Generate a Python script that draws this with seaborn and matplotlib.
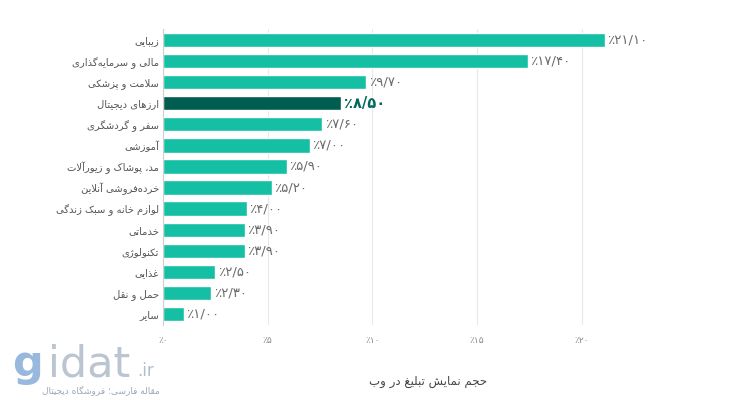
import matplotlib
matplotlib.use("Agg")
import matplotlib.pyplot as plt
import seaborn as sns
import pandas as pd

# ---------------- data ----------------
categories = [
    "زیبایی",
    "مالی و سرمایه\u200cگذاری",
    "سلامت و پزشکی",
    "ارزهای دیجیتال",
    "سفر و گردشگری",
    "آموزشی",
    "مد، پوشاک و زیورآلات",
    "خرده\u200cفروشی آنلاین",
    "لوازم خانه و سبک زندگی",
    "خدماتی",
    "تکنولوژی",
    "غذایی",
    "حمل و نقل",
    "سایر",
]
values = [21.10, 17.40, 9.70, 8.50, 7.60, 7.00, 5.90, 5.20, 4.00, 3.90, 3.90, 2.50, 2.30, 1.00]
highlight = "ارزهای دیجیتال"
x_ticks = [0, 5, 10, 15, 20]
x_label = "حجم نمایش تبلیغ در وب"
brand_sub = "مقاله فارسی؛ فروشگاه دیجیتال"

# ---------------- simple Arabic/Persian shaping ----------------
FORMS = {
    'آ': (0xFE81, 0xFE82, None, None), 'أ': (0xFE83, 0xFE84, None, None),
    'ؤ': (0xFE85, 0xFE86, None, None), 'إ': (0xFE87, 0xFE88, None, None),
    'ئ': (0xFE89, 0xFE8A, 0xFE8B, 0xFE8C), 'ا': (0xFE8D, 0xFE8E, None, None),
    'ب': (0xFE8F, 0xFE90, 0xFE91, 0xFE92), 'ة': (0xFE93, 0xFE94, None, None),
    'ت': (0xFE95, 0xFE96, 0xFE97, 0xFE98), 'ث': (0xFE99, 0xFE9A, 0xFE9B, 0xFE9C),
    'ج': (0xFE9D, 0xFE9E, 0xFE9F, 0xFEA0), 'ح': (0xFEA1, 0xFEA2, 0xFEA3, 0xFEA4),
    'خ': (0xFEA5, 0xFEA6, 0xFEA7, 0xFEA8), 'د': (0xFEA9, 0xFEAA, None, None),
    'ذ': (0xFEAB, 0xFEAC, None, None), 'ر': (0xFEAD, 0xFEAE, None, None),
    'ز': (0xFEAF, 0xFEB0, None, None), 'س': (0xFEB1, 0xFEB2, 0xFEB3, 0xFEB4),
    'ش': (0xFEB5, 0xFEB6, 0xFEB7, 0xFEB8), 'ص': (0xFEB9, 0xFEBA, 0xFEBB, 0xFEBC),
    'ض': (0xFEBD, 0xFEBE, 0xFEBF, 0xFEC0), 'ط': (0xFEC1, 0xFEC2, 0xFEC3, 0xFEC4),
    'ظ': (0xFEC5, 0xFEC6, 0xFEC7, 0xFEC8), 'ع': (0xFEC9, 0xFECA, 0xFECB, 0xFECC),
    'غ': (0xFECD, 0xFECE, 0xFECF, 0xFED0), 'ف': (0xFED1, 0xFED2, 0xFED3, 0xFED4),
    'ق': (0xFED5, 0xFED6, 0xFED7, 0xFED8), 'ك': (0xFED9, 0xFEDA, 0xFEDB, 0xFEDC),
    'ل': (0xFEDD, 0xFEDE, 0xFEDF, 0xFEE0), 'م': (0xFEE1, 0xFEE2, 0xFEE3, 0xFEE4),
    'ن': (0xFEE5, 0xFEE6, 0xFEE7, 0xFEE8), 'ه': (0xFEE9, 0xFEEA, 0xFEEB, 0xFEEC),
    'و': (0xFEED, 0xFEEE, None, None), 'ى': (0xFEEF, 0xFEF0, None, None),
    'ي': (0xFEF1, 0xFEF2, 0xFEF3, 0xFEF4),
    'پ': (0xFB56, 0xFB57, 0xFB58, 0xFB59), 'چ': (0xFB7A, 0xFB7B, 0xFB7C, 0xFB7D),
    'ژ': (0xFB8A, 0xFB8B, None, None), 'ک': (0xFB8E, 0xFB8F, 0xFB90, 0xFB91),
    'گ': (0xFB92, 0xFB93, 0xFB94, 0xFB95), 'ی': (0xFBFC, 0xFBFD, 0xFBFE, 0xFBFF),
}
LAM_ALEF = {'آ': (0xFEF5, 0xFEF6), 'أ': (0xFEF7, 0xFEF8), 'إ': (0xFEF9, 0xFEFA), 'ا': (0xFEFB, 0xFEFC)}


def shape(text):
    toks = []
    i = 0
    while i < len(text):
        c = text[i]
        if c == 'ل' and i + 1 < len(text) and text[i + 1] in LAM_ALEF:
            toks.append(('LA', text[i + 1]))
            i += 2
        else:
            toks.append(c)
            i += 1

    def jn(t):
        return (not isinstance(t, tuple)) and t in FORMS and FORMS[t][2] is not None

    def jp(t):
        return isinstance(t, tuple) or t in FORMS

    out = []
    for k, t in enumerate(toks):
        prev = toks[k - 1] if k > 0 else None
        nxt = toks[k + 1] if k + 1 < len(toks) else None
        p = prev is not None and jn(prev) and jp(t)
        n = nxt is not None and jn(t) and jp(nxt)
        if isinstance(t, tuple):
            out.append(chr(LAM_ALEF[t[1]][1 if p else 0]))
        elif t in FORMS:
            iso, fin, ini, med = FORMS[t]
            if p and n:
                out.append(chr(med))
            elif p:
                out.append(chr(fin))
            elif n:
                out.append(chr(ini))
            else:
                out.append(chr(iso))
        elif t == '\u200c':
            continue
        else:
            out.append(t)
    return ''.join(reversed(out))


FA_DIGITS = str.maketrans("0123456789.", "۰۱۲۳۴۵۶۷۸۹/")


def fa_pct(v, fmt="{:.2f}"):
    return "٪" + fmt.format(v).translate(FA_DIGITS)


# ---------------- plot ----------------
sns.set_theme(style="white")
plt.rcParams['font.family'] = ['DejaVu Sans']

teal = "#14BFA4"
dark = "#005E50"
df = pd.DataFrame({"cat": categories, "val": values})
palette = {c: (dark if c == highlight else teal) for c in categories}

fig = plt.figure(figsize=(7.4, 4.11), dpi=100)
ax = fig.add_axes([163 / 740, 1 - 324.5 / 411, (693 - 163) / 740, (324.5 - 29.5) / 411])

sns.barplot(data=df, x="val", y="cat", hue="cat", palette=palette, legend=False,
            orient="h", width=0.68, ax=ax, saturation=1)

ax.set_xlim(0, 25.3)
ax.set_ylim(13.5, -0.5)
ax.set_xticks(x_ticks)
ax.set_xticklabels([("٪" + str(t).translate(FA_DIGITS)) for t in x_ticks],
                   fontsize=6.5, color="#888888")
ax.set_yticks(range(len(categories)))
ax.set_yticklabels([shape(c) for c in categories], fontsize=7.2, color="#555555")
ax.tick_params(axis="y", length=0, pad=3)
ax.tick_params(axis="x", length=0, pad=8)
ax.set_xlabel(shape(x_label), fontsize=8.5, color="#444444", labelpad=22)
ax.set_ylabel("")

ax.xaxis.grid(True, color="#e8e8e8", linewidth=0.8)
ax.set_axisbelow(True)
for s in ["top", "right", "bottom"]:
    ax.spines[s].set_visible(False)
ax.spines["left"].set_color("#cfcfcf")
ax.spines["left"].set_linewidth(0.8)

for i, (c, v) in enumerate(zip(categories, values)):
    if c == highlight:
        ax.text(v + 0.12, i, fa_pct(v), va="center", ha="left", fontsize=10.5,
                fontweight="bold", color="#006B5A")
    else:
        ax.text(v + 0.12, i, fa_pct(v), va="center", ha="left", fontsize=9.5,
                color="#6b6b6b")

# watermark
fig.text(12 / 740, 1 - 376 / 411, "g", fontsize=31, color="#7fa6d6", alpha=0.8,
         va="baseline", ha="left", fontweight="bold")
fig.text(48 / 740, 1 - 376 / 411, "idat", fontsize=31, color="#aab7c6", alpha=0.8,
         va="baseline", ha="left")
fig.text(137 / 740, 1 - 376 / 411, ".ir", fontsize=12, color="#aab7c6", alpha=0.9,
         va="baseline", ha="left")
fig.text(160 / 740, 1 - 390 / 411, shape(brand_sub), fontsize=6.5, color="#9aa8b8",
         va="center", ha="right")

fig.savefig("out.png", dpi=100)
